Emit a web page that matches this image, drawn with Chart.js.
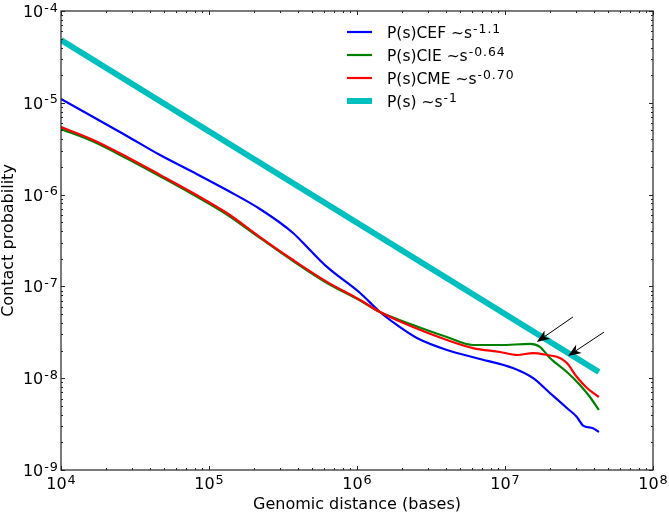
<!DOCTYPE html>
<html>
<head>
<meta charset="utf-8">
<script src="https://cdn.jsdelivr.net/npm/chart.js@4/dist/chart.umd.min.js"></script>
<style>
  body { margin: 0; background: #fff; }
  canvas { display: block; }
</style>
</head>
<body>
<canvas id="chart" width="669" height="515"></canvas>
<script>
// genomic distance s (bases) and contact probability P(s)
const cefS = [1.0e4, 2.79e4, 4.67e4, 7.8e4, 1.32e5, 2.21e5, 3.7e5, 4.81e5, 6.27e5, 1.05e6, 1.43e6, 1.86e6, 2.54e6, 4.05e6, 6.78e6, 1.13e7, 1.55e7, 2.01e7, 2.62e7, 3.06e7, 3.37e7, 3.93e7, 4.31e7];
const cefP = [1.10e-5, 4.35e-6, 2.70e-6, 1.76e-6, 1.12e-6, 6.97e-7, 3.82e-7, 2.49e-7, 1.63e-7, 8.47e-8, 5.26e-8, 3.80e-8, 2.74e-8, 2.03e-8, 1.62e-8, 1.29e-8, 1.00e-8, 6.9e-9, 4.73e-9, 3.78e-9, 3.05e-9, 2.85e-9, 2.59e-9];

const cieS = [1.0e4, 1.65e4, 2.79e4, 4.67e4, 7.8e4, 1.32e5, 2.21e5, 3.7e5, 6.27e5, 1.05e6, 1.43e6, 2.39e6, 4.05e6, 6.08e6, 9.25e6, 1.48e7, 1.72e7, 2.01e7, 2.62e7, 3.21e7, 3.75e7, 4.31e7];
const cieP = [5.19e-6, 3.79e-6, 2.47e-6, 1.58e-6, 1.0e-6, 6.07e-7, 3.37e-7, 1.89e-7, 1.09e-7, 7.02e-8, 5.26e-8, 3.80e-8, 2.81e-8, 2.30e-8, 2.30e-8, 2.36e-8, 2.19e-8, 1.66e-8, 1.17e-8, 8.44e-9, 6.24e-9, 4.51e-9];

const cmeS = [1.0e4, 1.65e4, 2.79e4, 4.67e4, 7.8e4, 1.32e5, 2.21e5, 3.7e5, 6.27e5, 1.05e6, 1.43e6, 2.39e6, 4.05e6, 6.08e6, 9.25e6, 1.21e7, 1.55e7, 1.92e7, 2.35e7, 2.62e7, 3.06e7, 3.58e7, 4.31e7];
const cmeP = [5.45e-6, 3.94e-6, 2.57e-6, 1.64e-6, 1.04e-6, 6.3e-7, 3.45e-7, 1.94e-7, 1.12e-7, 7.11e-8, 5.26e-8, 3.61e-8, 2.61e-8, 2.13e-8, 1.93e-8, 1.79e-8, 1.88e-8, 1.79e-8, 1.66e-8, 1.46e-8, 1.03e-8, 7.82e-9, 6.24e-9];

const refS = [1.0e4, 4.31e7];
const refP = [4.83e-5, 1.17e-8];

const labelBase = ["P(s)CEF ~s", "P(s)CIE ~s", "P(s)CME ~s", "P(s) ~s"];
const labelExp = ["-1.1", "-0.64", "-0.70", "-1"];

const xDecades = [4, 5, 6, 7, 8];
const yDecades = [-4, -5, -6, -7, -8, -9];

// arrow annotations: [tail s, tail P, head s, head P]
const arrows = [
  [2.88e7, 4.65e-8, 1.64e7, 2.48e-8],
  [4.67e7, 3.18e-8, 2.67e7, 1.75e-8]
];

function pts(xs, ys) {
  return xs.map(function (x, i) { return { x: x, y: ys[i] }; });
}

const FONT = "'DejaVu Sans', sans-serif";

function drawPow(ctx, base, exp, x, y, size, align) {
  // base with a raised exponent; x is the anchor, y the baseline
  let esize = Math.round(size * 0.8 * 10) / 10;
  ctx.font = size + "px " + FONT;
  ctx.letterSpacing = "0px";
  let wb = ctx.measureText(base).width;
  ctx.font = esize + "px " + FONT;
  ctx.letterSpacing = "1px";
  let we = ctx.measureText(exp).width;
  let total = wb + we;
  let x0 = x;
  if (align === "center") x0 = x - total / 2;
  if (align === "right") x0 = x - total;
  ctx.textAlign = "left";
  ctx.textBaseline = "alphabetic";
  ctx.font = size + "px " + FONT;
  ctx.letterSpacing = "0px";
  ctx.fillText(base, x0, y);
  ctx.font = esize + "px " + FONT;
  ctx.letterSpacing = "1px";
  ctx.fillText(exp, x0 + wb + 1, y - size * 0.34);
  ctx.letterSpacing = "0px";
}

const decor = {
  id: "decor",
  afterDraw(chart) {
    const ctx = chart.ctx;
    const a = chart.chartArea;
    const xs = chart.scales.x;
    const ys = chart.scales.y;
    ctx.save();
    ctx.fillStyle = "#000";
    ctx.strokeStyle = "#222";

    // frame
    ctx.lineWidth = 1.2;
    ctx.strokeRect(a.left, a.top, a.right - a.left, a.bottom - a.top);

    // ticks (inside, all four sides)
    ctx.lineWidth = 1;
    ctx.beginPath();
    xDecades.forEach(function (d) {
      for (let m = 1; m <= 9; m++) {
        if (m > 1 && d === 8) break;
        let px = Math.round(xs.getPixelForValue(m * Math.pow(10, d))) + 0.5;
        let len = m === 1 ? 4 : 2;
        ctx.moveTo(px, a.bottom); ctx.lineTo(px, a.bottom - len);
        ctx.moveTo(px, a.top); ctx.lineTo(px, a.top + len);
      }
    });
    yDecades.forEach(function (d) {
      for (let m = 1; m <= 9; m++) {
        if (m > 1 && d === -4) break;
        let py = Math.round(ys.getPixelForValue(m * Math.pow(10, d))) + 0.5;
        let len = m === 1 ? 4 : 2;
        ctx.moveTo(a.left, py); ctx.lineTo(a.left + len, py);
        ctx.moveTo(a.right, py); ctx.lineTo(a.right - len, py);
      }
    });
    ctx.stroke();

    // tick labels
    xDecades.forEach(function (d) {
      let px = xs.getPixelForValue(Math.pow(10, d));
      drawPow(ctx, "10", String(d), px, a.bottom + 19, 16, "center");
    });
    yDecades.forEach(function (d) {
      let py = ys.getPixelForValue(Math.pow(10, d));
      drawPow(ctx, "10", String(d), a.left - 3, py + 6, 16, "right");
    });

    // axis titles
    ctx.font = "16px " + FONT;
    ctx.textAlign = "center";
    ctx.textBaseline = "alphabetic";
    ctx.fillText("Genomic distance (bases)", (a.left + a.right) / 2, a.bottom + 39);
    ctx.save();
    ctx.translate(13, (a.top + a.bottom) / 2);
    ctx.rotate(-Math.PI / 2);
    ctx.fillText("Contact probability", 0, 0);
    ctx.restore();

    // legend
    chart.data.datasets.forEach(function (ds, i) {
      let y = 32 + i * 23;
      ctx.strokeStyle = ds.borderColor;
      ctx.lineWidth = ds.borderWidth;
      ctx.beginPath();
      ctx.moveTo(347, y);
      ctx.lineTo(372, y);
      ctx.stroke();
      ctx.fillStyle = "#000";
      drawPow(ctx, labelBase[i], labelExp[i], 387, y + 6, 15.5, "left");
    });

    // arrows
    ctx.strokeStyle = "#000";
    ctx.fillStyle = "#000";
    ctx.lineWidth = 1;
    arrows.forEach(function (ar) {
      let x1 = xs.getPixelForValue(ar[0]), y1 = ys.getPixelForValue(ar[1]);
      let x2 = xs.getPixelForValue(ar[2]), y2 = ys.getPixelForValue(ar[3]);
      let ang = Math.atan2(y2 - y1, x2 - x1);
      let L = 13, W = 5;
      let bx = x2 - L * Math.cos(ang), by = y2 - L * Math.sin(ang);
      let nx = x2 - L * 0.7 * Math.cos(ang), ny = y2 - L * 0.7 * Math.sin(ang);
      ctx.beginPath();
      ctx.moveTo(x1, y1);
      ctx.lineTo(nx, ny);
      ctx.stroke();
      ctx.beginPath();
      ctx.moveTo(x2, y2);
      ctx.lineTo(bx - W * Math.sin(ang), by + W * Math.cos(ang));
      ctx.lineTo(nx, ny);
      ctx.lineTo(bx + W * Math.sin(ang), by - W * Math.cos(ang));
      ctx.closePath();
      ctx.fill();
    });
    ctx.restore();
  }
};

const chart = new Chart(document.getElementById("chart").getContext("2d"), {
  type: "line",
  data: {
    datasets: [
      { label: "CEF", data: pts(cefS, cefP), borderColor: "#0000ff", borderWidth: 2.2, order: 4 },
      { label: "CIE", data: pts(cieS, cieP), borderColor: "#008000", borderWidth: 2.2, order: 3 },
      { label: "CME", data: pts(cmeS, cmeP), borderColor: "#ff0000", borderWidth: 2.2, order: 2 },
      { label: "ref", data: pts(refS, refP), borderColor: "#00bfbf", borderWidth: 6, order: 1 }
    ]
  },
  options: {
    responsive: false,
    devicePixelRatio: 1,
    animation: false,
    layout: { padding: { top: 11, right: 16, left: 0, bottom: 0 } },
    elements: {
      point: { radius: 0 },
      line: { cubicInterpolationMode: "monotone", fill: false, borderJoinStyle: "round" }
    },
    plugins: { legend: { display: false }, tooltip: { enabled: false } },
    scales: {
      x: {
        type: "logarithmic", min: 1e4, max: 1e8,
        grid: { display: false }, border: { display: false },
        ticks: { display: false },
        afterFit: function (s) { s.height = 45; }
      },
      y: {
        type: "logarithmic", min: 1e-9, max: 1e-4,
        grid: { display: false }, border: { display: false },
        ticks: { display: false },
        afterFit: function (s) { s.width = 61; }
      }
    }
  },
  plugins: [decor]
});
</script>
</body>
</html>
